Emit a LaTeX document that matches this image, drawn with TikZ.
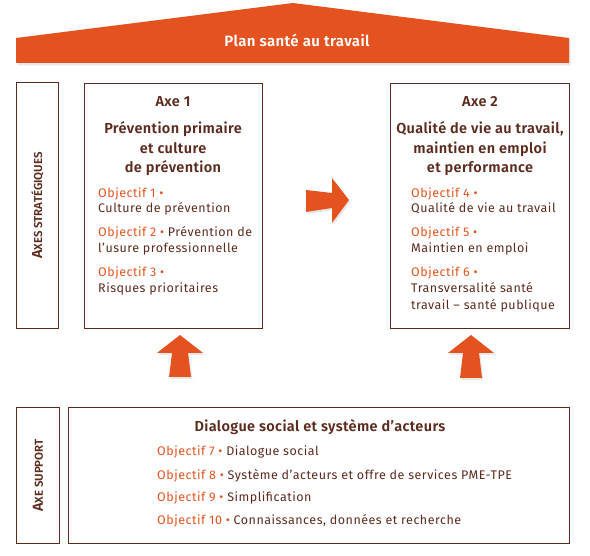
\documentclass[tikz,border=0pt]{standalone}
\usepackage{fontspec}
\setmainfont{Fira Sans}[BoldFont={Fira Sans SemiBold}]
\usetikzlibrary{shadows}
\definecolor{org}{HTML}{E4531F}
\definecolor{brn}{HTML}{5C2B1E}
\begin{document}
\begin{tikzpicture}[x=1pt,y=-1pt,
 frame/.style={draw=brn, line width=1.1pt, inner sep=0pt, anchor=north west},
 blockarrow/.style={fill=org, draw=none, drop shadow={shadow xshift=1.5pt,shadow yshift=-2pt,opacity=.18}},
 txt/.style={inner sep=0pt, text=brn, font=\fontsize{12.5}{15}\selectfont\addfontfeature{LetterSpace=4}},
 obj/.style={txt, anchor=base west},
 head/.style={inner sep=0pt, text=brn, font=\bfseries\fontsize{14.5}{16}\selectfont\addfontfeature{LetterSpace=2.5}, anchor=base},
 vlabel/.style={inner sep=0pt, text=brn, font=\bfseries, rotate=90},
]
\useasboundingbox (0,0) rectangle (590,556);

% roof
\fill[org, drop shadow={shadow xshift=1.5pt,shadow yshift=-2.5pt,opacity=.18}]
  (16,38) -- (293,3) -- (569,38) -- (569,63) -- (16,63) -- cycle;
\node[inner sep=0pt, text=white, font=\bfseries\fontsize{15}{16}\selectfont\addfontfeature{LetterSpace=2.5}, anchor=base] (plan) at (297,46.5) {Plan santé au travail};

% boxes
\node[frame, minimum width=42pt, minimum height=246pt] (s1) at (16,82) {};
\node[frame, minimum width=178pt, minimum height=245pt] (a1) at (84,83) {};
\node[frame, minimum width=179pt, minimum height=245pt] (a2) at (390,83) {};
\node[frame, minimum width=43pt, minimum height=136pt] (s2) at (16,407) {};
\node[frame, minimum width=501pt, minimum height=136pt] (a3) at (68,407) {};

% vertical labels
\node[vlabel] (l1) at (s1.center) {{\fontsize{14.5}{14}\selectfont A}{\fontsize{11.5}{11}\selectfont XES STRATÉGIQUES}};
\node[vlabel] (l2) at (s2.center) {{\fontsize{14.5}{14}\selectfont A}{\fontsize{11.5}{11}\selectfont XE SUPPORT}};

% arrows
\fill[blockarrow] (306,190) -- (332,193) -- (332,178) -- (349,200) -- (332,223) -- (332,208) -- (306,212) -- cycle;
\fill[blockarrow] (169,377) -- (172,353) -- (157,353) -- (180,335) -- (203,353) -- (188,353) -- (191,377) -- cycle;
\fill[blockarrow] (460,378) -- (463,353) -- (448,353) -- (471,335) -- (494,353) -- (479,353) -- (482,378) -- cycle;

% Axe 1
\node[head] (a1t) at (173,107) {Axe 1};
\node[head] (a1h1) at (173,134) {Prévention primaire};
\node[head] (a1h2) at (173,153.5) {et culture};
\node[head] (a1h3) at (173,173) {de prévention};
\node[obj] (o1) at (98,198) {\textcolor{org}{Objectif 1 •}};
\node[obj] (o1t) at (98,213) {Culture de prévention};
\node[obj] (o2) at (98,237) {\textcolor{org}{Objectif 2 •} Prévention de};
\node[obj] (o2t) at (98,253) {l’usure professionnelle};
\node[obj] (o3) at (98,277) {\textcolor{org}{Objectif 3 •}};
\node[obj] (o3t) at (98,293) {Risques prioritaires};

% Axe 2
\node[head] (a2t) at (480,107) {Axe 2};
\node[head] (a2h1) at (480,134) {Qualité de vie au travail,};
\node[head] (a2h2) at (480,153.5) {maintien en emploi};
\node[head] (a2h3) at (480,173) {et performance};
\node[obj] (o4) at (411,198) {\textcolor{org}{Objectif 4 •}};
\node[obj] (o4t) at (411,213) {Qualité de vie au travail};
\node[obj] (o5) at (411,237) {\textcolor{org}{Objectif 5 •}};
\node[obj] (o5t) at (411,253) {Maintien en emploi};
\node[obj] (o6) at (411,277) {\textcolor{org}{Objectif 6 •}};
\node[obj] (o6t) at (411,293) {Transversalité santé};
\node[obj] (o6u) at (411,310) {travail – santé publique};

% Axe support
\node[head] (a3h) at (320,432) {Dialogue social et système d’acteurs};
\node[obj] (o7) at (157,456) {\textcolor{org}{Objectif 7 •} Dialogue social};
\node[obj] (o8) at (157,479) {\textcolor{org}{Objectif 8 •} Système d’acteurs et offre de services PME-TPE};
\node[obj] (o9) at (157,501) {\textcolor{org}{Objectif 9 •} Simplification};
\node[obj] (o10) at (157,525) {\textcolor{org}{Objectif 10 •} Connaissances, données et recherche};
\end{tikzpicture}
\end{document}
